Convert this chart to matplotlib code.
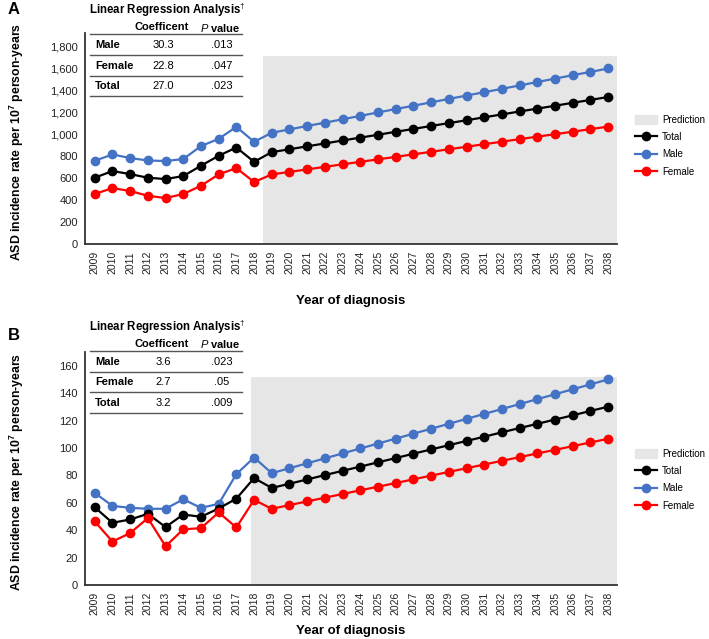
import matplotlib
matplotlib.use("Agg")
import matplotlib.pyplot as plt
from matplotlib.lines import Line2D
from matplotlib.patches import Patch
import numpy as np

plt.rcParams['font.family'] = ['Liberation Sans', 'DejaVu Sans']
plt.rcParams['mathtext.fontset'] = 'custom'
plt.rcParams['mathtext.rm'] = 'Liberation Sans'
plt.rcParams['mathtext.it'] = 'Liberation Sans:italic'
plt.rcParams['mathtext.bf'] = 'Liberation Sans:bold'

years = list(range(2009, 2039))

# panel A
a_total = [603, 664, 636, 603, 591, 618, 712, 803, 878, 748,
           836, 862, 889, 915, 942, 968, 994, 1021, 1047, 1074,
           1100, 1126, 1153, 1179, 1206, 1232, 1258, 1285, 1311, 1338]
a_male = [757, 815, 782, 760, 755, 773, 891, 957, 1066, 930,
          1012, 1043, 1074, 1104, 1135, 1166, 1197, 1228, 1258, 1289,
          1320, 1351, 1381, 1412, 1443, 1474, 1505, 1536, 1566, 1597]
a_female = [455, 509, 482, 439, 418, 455, 530, 633, 691, 564,
            633, 656, 679, 702, 725, 748, 770, 793, 816, 839,
            862, 885, 908, 931, 954, 977, 999, 1022, 1045, 1068]

# panel B
b_total = [56.7, 45.4, 47.8, 51.9, 42.3, 51.4, 49.8, 55.8, 63.0, 78.0,
           70.8, 73.9, 77.0, 80.2, 83.3, 86.4, 89.5, 92.6, 95.8, 98.9,
           102.0, 105.1, 108.2, 111.4, 114.5, 117.6, 120.7, 123.8, 127.0, 130.1]
b_male = [67.2, 57.7, 56.3, 55.6, 55.6, 62.5, 56.3, 59.2, 80.9, 93.0,
          81.6, 85.2, 88.8, 92.4, 96.0, 99.6, 103.2, 106.8, 110.4, 114.0,
          117.6, 121.2, 124.8, 128.4, 132.0, 135.6, 139.2, 142.8, 146.4, 150.0]
b_female = [46.4, 31.7, 37.9, 48.8, 28.3, 40.6, 41.5, 52.9, 42.0, 62.1,
            55.6, 58.3, 61.0, 63.7, 66.4, 69.1, 71.7, 74.4, 77.1, 79.8,
            82.5, 85.2, 87.9, 90.6, 93.3, 96.0, 98.6, 101.3, 104.0, 106.7]

groups = ["Male", "Female", "Total"]
a_coef = ["30.3", "22.8", "27.0"]
a_pval = [".013", ".047", ".023"]
b_coef = ["3.6", "2.7", "3.2"]
b_pval = [".023", ".05", ".009"]

W, H = 709, 639
fig = plt.figure(figsize=(W / 100, H / 100), dpi=100)


def fx(x):
    return x / W


def fy(y):
    return 1 - y / H


blue = '#4472C4'
red = '#FF0000'
grey = '#E6E6E6'


def panel(rect, tot, male, fem, ymax, yticks, pred_start, pred_top, fmt, xpad):
    ax = fig.add_axes(rect)
    ax.axvspan(pred_start, 2038.5, ymax=pred_top / ymax, color=grey, lw=0, zorder=0)
    for vals, c in [(male, blue), (tot, 'black'), (fem, red)]:
        ax.plot(years, vals, color=c, lw=1.6, marker='o', ms=6, zorder=3)
    ax.set_xlim(2008.45, 2038.5)
    ax.set_ylim(0, ymax)
    ax.set_xticks(years)
    ax.set_xticklabels([str(y) for y in years], rotation=90, fontsize=7.5, color='#222222')
    ax.set_yticks(yticks)
    ax.set_yticklabels([fmt(v) for v in yticks], fontsize=8, color='#222222')
    ax.tick_params(length=0, pad=5)
    for s in ['top', 'right']:
        ax.spines[s].set_visible(False)
    for s in ['left', 'bottom']:
        ax.spines[s].set_color('#333333')
        ax.spines[s].set_linewidth(1.3)
    ax.set_xlabel("Year of diagnosis", fontsize=9.5, fontweight='bold', labelpad=xpad)
    ax.set_ylabel("ASD incidence rate per 10$^{\\mathbf{7}}$ person-years",
                  fontsize=8.8, fontweight='bold')
    ax.yaxis.set_label_coords(-0.11, 0.485)
    handles = [Patch(color=grey, label="Prediction"),
               Line2D([], [], color='black', marker='o', ms=6, lw=1.6, label="Total"),
               Line2D([], [], color=blue, marker='o', ms=6, lw=1.6, label="Male"),
               Line2D([], [], color=red, marker='o', ms=6, lw=1.6, label="Female")]
    return ax, handles


def table(y0, coefs, pvals):
    fig.text(fx(167), fy(y0 + 10), "Linear Regression Analysis$^{\\dagger}$",
             ha='center', va='center', fontsize=8.3, fontweight='bold')
    fig.text(fx(162), fy(y0 + 27.5), "Coefficent", ha='center', va='center',
             fontsize=8, fontweight='bold')
    fig.text(fx(220), fy(y0 + 27.5), "$\\mathbf{\\mathit{P}}$ value", ha='center',
             va='center', fontsize=8, fontweight='bold')
    fig.add_artist(Line2D([fx(90), fx(242)], [fy(y0 + 34.3)] * 2, color='#555555', lw=1))
    for i, g in enumerate(groups):
        yy = y0 + 45.3 + i * 20.4
        fig.text(fx(95), fy(yy), g, ha='left', va='center', fontsize=8, fontweight='bold')
        fig.text(fx(163), fy(yy), coefs[i], ha='center', va='center', fontsize=8)
        fig.text(fx(222), fy(yy), pvals[i], ha='center', va='center', fontsize=8)
        fig.add_artist(Line2D([fx(90), fx(242)], [fy(yy + 10)] * 2, color='#555555', lw=1))


rect_a = [fx(85), fy(244), fx(617 - 85), (244 - 33) / H]
rect_b = [fx(85), fy(585), fx(617 - 85), (585 - 352) / H]

ax_a, h = panel(rect_a, a_total, a_male, a_female, 1920, list(range(0, 1801, 200)),
                2018.5, 1710, lambda v: f"{v:,}", 15)
ax_b, h = panel(rect_b, b_total, b_male, b_female, 170, list(range(0, 161, 20)),
                2017.8, 152, lambda v: str(v), 7)

for ax, ly in [(ax_a, 110), (ax_b, 444)]:
    ax.legend(handles=h, loc='upper left', bbox_to_anchor=(fx(630), fy(ly)),
              bbox_transform=fig.transFigure, frameon=False, fontsize=7,
              handlelength=2.3, handleheight=1.0, labelspacing=0.75,
              borderpad=0, handletextpad=0.5)

table(0, a_coef, a_pval)
table(316.5, b_coef, b_pval)

fig.text(fx(8), fy(10), "A", fontsize=12, fontweight='bold', ha='left', va='center')
fig.text(fx(8), fy(336), "B", fontsize=12, fontweight='bold', ha='left', va='center')

fig.savefig("out.png", dpi=100)
